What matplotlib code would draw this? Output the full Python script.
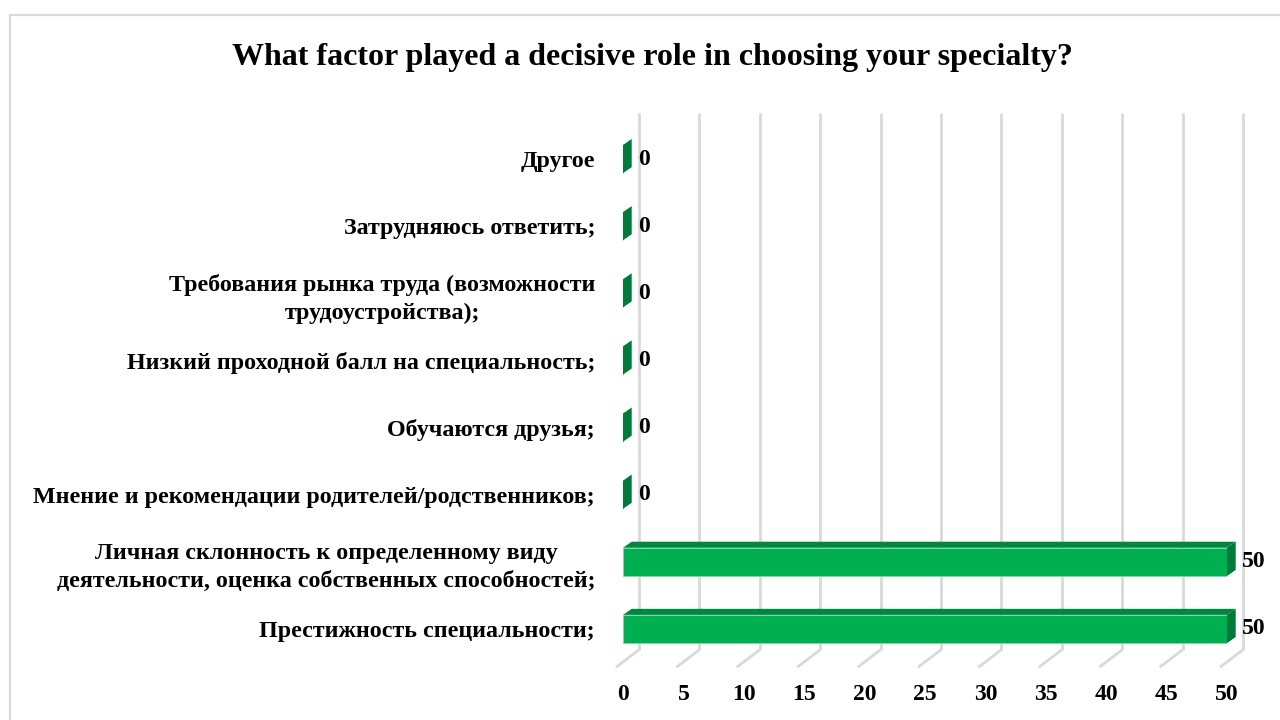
import matplotlib
matplotlib.use("Agg")
import matplotlib.pyplot as plt
from matplotlib.patches import Polygon, Rectangle

# Survey answers, bottom row first
categories = [
    "Престижность специальности;",
    "Личная склонность к определенному виду\nдеятельности, оценка собственных способностей;",
    "Мнение и рекомендации родителей/родственников;",
    "Обучаются друзья;",
    "Низкий проходной балл на специальность;",
    "Требования рынка труда (возможности\nтрудоустройства);",
    "Затрудняюсь ответить;",
    "Другое",
]
values = [50, 50, 0, 0, 0, 0, 0, 0]
x_ticks = [0, 5, 10, 15, 20, 25, 30, 35, 40, 45, 50]

title = "What factor played a decisive role in choosing your specialty?"

FRONT = "#00B050"
TOP = "#00873F"
SIDE = "#007A38"
GRID = "#D9D9D9"

plt.rcParams["font.family"] = ["Liberation Serif", "DejaVu Serif"]
plt.rcParams["font.weight"] = "bold"

fig = plt.figure(figsize=(12.8, 7.2), dpi=100)

# Light frame around the chart area
fig.add_artist(Rectangle((10 / 1280, -0.1), 1.2, 1 - 15 / 720 + 0.1,
                         transform=fig.transFigure, fill=False,
                         edgecolor=GRID, linewidth=1.6))

fig.text(652 / 1280, 1 - 57 / 720, title, ha="center", va="center",
         fontsize=23, fontweight="bold")

ax = fig.add_axes([623 / 1280, 1 - 680 / 720, 604 / 1280, 580 / 720])
ax.set_xlim(0, 50)
ax.set_ylim(-0.76, 7.88)
for s in ax.spines.values():
    s.set_visible(False)
ax.patch.set_alpha(0)

# 3-D look: depth offsets in data units
wall_dx, wall_top, wall_bottom = 1.32, 7.685, -0.31
floor_dx, floor_front = -0.58, -0.57
bar_dx, bar_dy = 0.72, 0.09
bar_h = 0.42

# back wall gridlines and floor diagonals
for t in x_ticks:
    ax.plot([t + wall_dx, t + wall_dx], [wall_bottom, wall_top],
            color=GRID, linewidth=2, zorder=1, solid_capstyle="butt",
            clip_on=False)
    ax.plot([t + wall_dx, t + floor_dx], [wall_bottom, floor_front],
            color=GRID, linewidth=2, zorder=1, solid_capstyle="butt",
            clip_on=False)

idx = list(range(len(categories)))
ax.barh(idx, values, height=bar_h, color=FRONT, edgecolor="#7FD8A7",
        linewidth=0.6, zorder=3)

for i, v in zip(idx, values):
    top = i + bar_h / 2
    bottom = i - bar_h / 2
    if v > 0:
        ax.add_patch(Polygon([(0, top), (v, top), (v + bar_dx, top + bar_dy),
                              (bar_dx, top + bar_dy)],
                             closed=True, facecolor=TOP, edgecolor="none",
                             zorder=3, clip_on=False))
    ax.add_patch(Polygon([(v, bottom), (v, top), (v + bar_dx, top + bar_dy),
                          (v + bar_dx, bottom + bar_dy)],
                         closed=True, facecolor=SIDE, edgecolor="none",
                         zorder=3, clip_on=False))
    ax.annotate(str(v), (v, i), xytext=(11, 0), textcoords="offset points",
                ha="left", va="center", fontsize=17, fontweight="bold")

ax.set_yticks(idx)
ax.set_yticklabels(categories, fontsize=17.3, fontweight="bold",
                   multialignment="center", linespacing=1.4)
ax.set_xticks(x_ticks)
ax.set_xticklabels([str(t) for t in x_ticks], fontsize=17, fontweight="bold")
ax.tick_params(axis="y", length=0, pad=20)
ax.tick_params(axis="x", length=0, pad=3)

fig.savefig("out.png", dpi=100)
